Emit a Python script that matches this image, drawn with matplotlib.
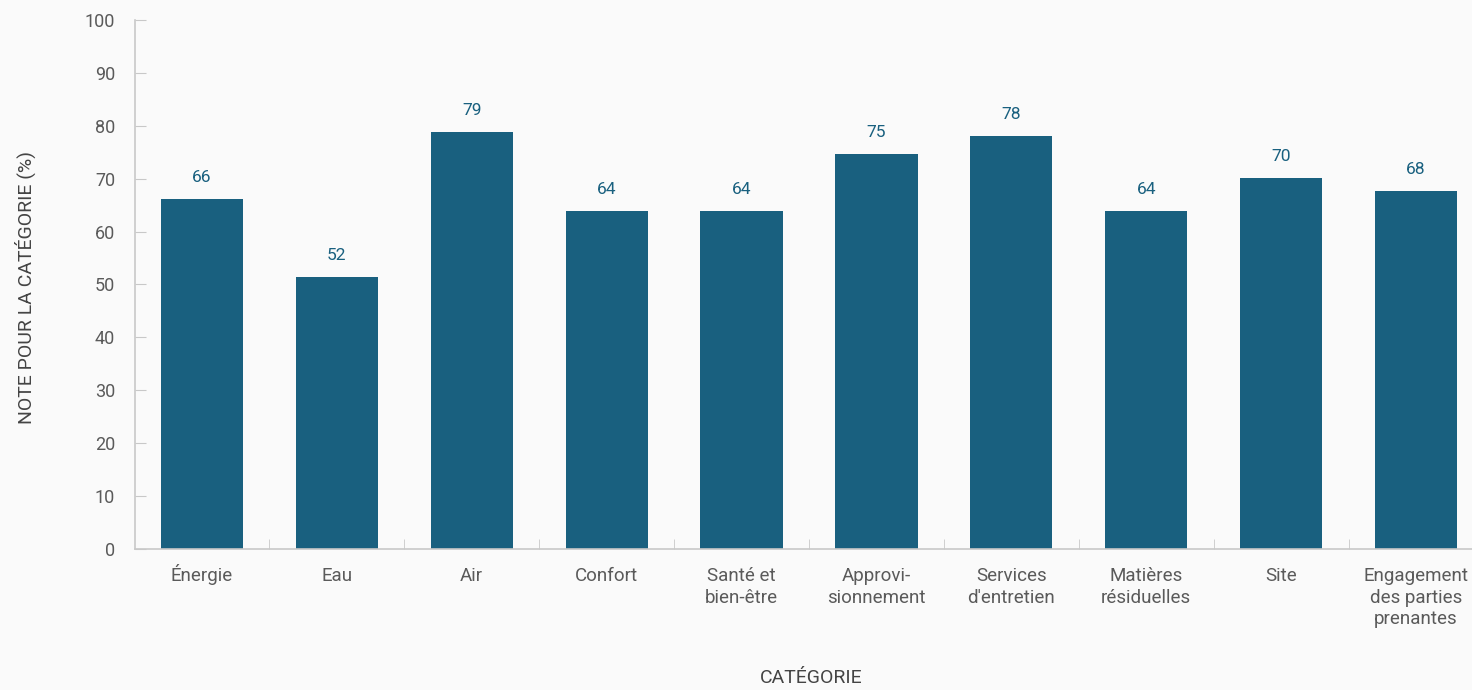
import numpy as np
import matplotlib.pyplot as plt
import matplotlib.transforms as mtransforms
from matplotlib import font_manager

categories = ["Énergie", "Eau", "Air", "Confort", "Santé et\nbien-être",
              "Approvi-\nsionnement", "Services\nd'entretien", "Matières\nrésiduelles",
              "Site", "Engagement\ndes parties\nprenantes"]
scores = [66.2, 51.4, 78.8, 63.9, 63.9, 74.7, 78.1, 63.9, 70.1, 67.7]
score_labels = ["66", "52", "79", "64", "64", "75", "78", "64", "70", "68"]

names = {f.name for f in font_manager.fontManager.ttflist}
narrow = "Liberation Sans Narrow" if "Liberation Sans Narrow" in names else "Roboto"
plt.rcParams['font.family'] = ['Roboto', 'DejaVu Sans']

bar_color = '#19607f'
axis_color = '#c8c8c8'
text_color = '#5a5a5a'

fig = plt.figure(figsize=(14.72, 6.9), dpi=100, facecolor='#fafafa')
ax = fig.add_axes([134.5 / 1472, 1 - 549 / 690, (1483.5 - 134.5) / 1472, (549 - 20) / 690])
ax.set_facecolor('#fafafa')

x = np.arange(len(categories))
ax.bar(x, scores, width=0.61, color=bar_color, zorder=2)
for xi, s, lab in zip(x, scores, score_labels):
    ax.text(xi, s + 2.6, lab, ha='center', va='bottom', fontsize=12.5, color=bar_color)

ax.set_xlim(-0.5, len(categories) - 0.5)
ax.set_ylim(0, 100)
ax.set_yticks(range(0, 101, 10))
ax.set_xticks(x)
ax.set_xticklabels([])
# category names: one text per line so every first line shares a baseline
trans = mtransforms.blended_transform_factory(ax.transData, ax.transAxes)
for xi, name in zip(x, categories):
    for i, line in enumerate(name.split('\n')):
        shift = mtransforms.ScaledTranslation(0, -i * 0.215, fig.dpi_scale_trans)
        ax.text(xi, -0.0605, line, transform=trans + shift, ha='center', va='baseline',
                fontsize=13.5, color=text_color, clip_on=False)
ax.set_xticks(np.arange(0.5, len(categories) - 0.5), minor=True)
ax.tick_params(axis='x', which='major', length=0)
ax.tick_params(axis='x', which='minor', direction='in', length=7, color=axis_color)
ax.tick_params(axis='y', direction='in', length=8, color=axis_color,
               labelsize=13, labelcolor=text_color, pad=14)

for side in ['top', 'right']:
    ax.spines[side].set_visible(False)
for side in ['left', 'bottom']:
    ax.spines[side].set_color(axis_color)
    ax.spines[side].set_linewidth(1.2)

fig.text(25 / 1472, 1 - 287 / 690, "NOTE POUR LA CATÉGORIE (%)", rotation=90,
         ha='center', va='center', fontsize=14, color='#444444', family=[narrow, 'DejaVu Sans'])
fig.text(811 / 1472, 1 - 678 / 690, "CATÉGORIE", ha='center', va='center',
         fontsize=14, color='#444444', family=[narrow, 'DejaVu Sans'])

fig.savefig('out.png', dpi=100, facecolor=fig.get_facecolor())
